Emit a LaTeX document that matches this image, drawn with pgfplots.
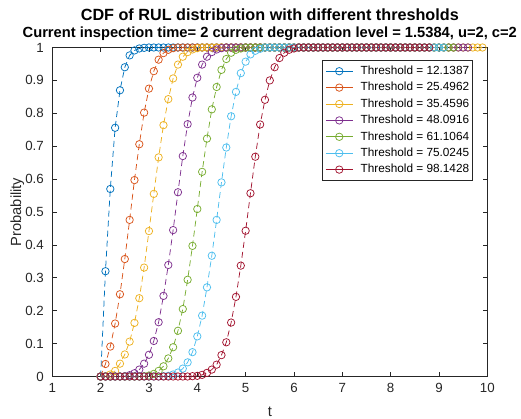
\documentclass[border=0pt]{standalone}
\usepackage{fontspec}
\setmainfont{Liberation Sans}
\setsansfont{Liberation Sans}
\usepackage{pgfplots}
\pgfplotsset{compat=1.18}
\definecolor{c1}{rgb}{0,0.447,0.741}
\definecolor{c2}{rgb}{0.85,0.325,0.098}
\definecolor{c3}{rgb}{0.929,0.694,0.125}
\definecolor{c4}{rgb}{0.494,0.184,0.556}
\definecolor{c5}{rgb}{0.466,0.674,0.188}
\definecolor{c6}{rgb}{0.301,0.745,0.933}
\definecolor{c7}{rgb}{0.635,0.078,0.184}
\definecolor{axgray}{rgb}{0.15,0.15,0.15}
\begin{document}
\begin{tikzpicture}
\begin{axis}[
  scale only axis, width=435pt, height=329pt,
  xmin=1, xmax=10, ymin=0, ymax=1,
  xtick={1,2,3,4,5,6,7,8,9,10},
  ytick={0,0.1,0.2,0.3,0.4,0.5,0.6,0.7,0.8,0.9,1},
  yticklabels={0,0.1,0.2,0.3,0.4,0.5,0.6,0.7,0.8,0.9,1},
  tick align=inside, xtick pos=both, ytick pos=both,
  major tick length=4.5pt,
  axis line style={draw=axgray, line width=0.6pt},
  tick style={draw=axgray, line width=0.6pt},
  ticklabel style={font=\fontsize{13.3}{15}\selectfont, color=axgray},
  xticklabel style={yshift=-3pt},
  yticklabel style={xshift=-5pt},
  /pgf/number format/assume math mode=true,
  xlabel={t}, ylabel={Probability},
  every axis x label/.style={at={(rel axis cs:0.5,0)}, anchor=center, yshift=-35pt, font=\fontsize{14.7}{16}\selectfont, color=axgray},
  every axis y label/.style={at={(rel axis cs:0,0.5)}, anchor=center, rotate=90, yshift=35pt, font=\fontsize{14.7}{16}\selectfont, color=axgray},
  title={{\fontsize{16.2}{16.5}\selectfont CDF of RUL distribution with different thresholds}\\Current inspection time= 2 current degradation level = 1.5384, u=2, c=2},
  title style={align=center, font=\bfseries\fontsize{14.7}{16.5}\selectfont, yshift=-2.5pt},
  clip=false,
  every axis plot/.append style={line width=0.75pt, dash pattern=on 6pt off 4pt, mark=o, mark size=3.7pt, mark options={solid}},
  legend style={at={(0.966,0.9615)}, anchor=north east, draw=axgray, line width=0.6pt,
    font=\fontsize{11.8}{13}\selectfont, inner xsep=3pt, inner ysep=5pt,
    nodes={inner sep=0pt, text height=9pt, text depth=2.5pt}, row sep=4.9pt,
    /tikz/every odd column/.append style={column sep=7.5pt}},
  legend cell align=left,
  legend image code/.code={\draw[mark repeat=2,mark phase=2,#1,solid] plot coordinates {(0pt,0pt) (13.5pt,0pt) (27pt,0pt)};},
]
\addplot[color=c1] coordinates {
(2.0,0)(2.1,0.32)(2.2,0.57)(2.3,0.756)(2.4,0.87)(2.5,0.94)(2.6,0.976)(2.7,0.991)(2.8,0.997)(2.9,0.999)
(3.0,1)(3.1,1)(3.2,1)(3.3,1)(3.4,1)(3.5,1)(3.6,1)(3.7,1)(3.8,1)(3.9,1)
(4.0,1)(4.1,1)(4.2,1)(4.3,1)(4.4,1)(4.5,1)(4.6,1)(4.7,1)(4.8,1)(4.9,1)
(5.0,1)(5.1,1)(5.2,1)(5.3,1)(5.4,1)(5.5,1)(5.6,1)(5.7,1)(5.8,1)(5.9,1)
(6.0,1)(6.1,1)(6.2,1)(6.3,1)(6.4,1)(6.5,1)(6.6,1)(6.7,1)(6.8,1)(6.9,1)
(7.0,1)(7.1,1)(7.2,1)(7.3,1)(7.4,1)(7.5,1)(7.6,1)(7.7,1)(7.8,1)(7.9,1)
(8.0,1)(8.1,1)(8.2,1)(8.3,1)
};
\addlegendentry{Threshold = 12.1387}
\addplot[color=c2] coordinates {
(2.0,0)(2.1,0.038)(2.2,0.091)(2.3,0.161)(2.4,0.25)(2.5,0.357)(2.6,0.476)(2.7,0.597)(2.8,0.706)(2.9,0.802)
(3.0,0.875)(3.1,0.928)(3.2,0.963)(3.3,0.983)(3.4,0.993)(3.5,0.998)(3.6,1)(3.7,1)(3.8,1)(3.9,1)
(4.0,1)(4.1,1)(4.2,1)(4.3,1)(4.4,1)(4.5,1)(4.6,1)(4.7,1)(4.8,1)(4.9,1)
(5.0,1)(5.1,1)(5.2,1)(5.3,1)(5.4,1)(5.5,1)(5.6,1)(5.7,1)(5.8,1)(5.9,1)
(6.0,1)(6.1,1)(6.2,1)(6.3,1)(6.4,1)(6.5,1)(6.6,1)(6.7,1)(6.8,1)(6.9,1)
(7.0,1)(7.1,1)(7.2,1)(7.3,1)(7.4,1)(7.5,1)(7.6,1)(7.7,1)(7.8,1)(7.9,1)
(8.0,1)(8.1,1)(8.2,1)(8.3,1)(8.4,1)(8.5,1)
};
\addlegendentry{Threshold = 25.4962}
\addplot[color=c3] coordinates {
(2.0,0)(2.1,0.001)(2.2,0.006)(2.3,0.017)(2.4,0.039)(2.5,0.067)(2.6,0.106)(2.7,0.163)(2.8,0.238)(2.9,0.331)
(3.0,0.442)(3.1,0.555)(3.2,0.666)(3.3,0.764)(3.4,0.843)(3.5,0.906)(3.6,0.948)(3.7,0.972)(3.8,0.986)(3.9,0.994)
(4.0,0.998)(4.1,1)(4.2,1)(4.3,1)(4.4,1)(4.5,1)(4.6,1)(4.7,1)(4.8,1)(4.9,1)
(5.0,1)(5.1,1)(5.2,1)(5.3,1)(5.4,1)(5.5,1)(5.6,1)(5.7,1)(5.8,1)(5.9,1)
(6.0,1)(6.1,1)(6.2,1)(6.3,1)(6.4,1)(6.5,1)(6.6,1)(6.7,1)(6.8,1)(6.9,1)
(7.0,1)(7.1,1)(7.2,1)(7.3,1)(7.4,1)(7.5,1)(7.6,1)(7.7,1)(7.8,1)(7.9,1)
(8.0,1)(8.1,1)(8.2,1)(8.3,1)(8.4,1)(8.5,1)(8.6,1)(8.7,1)(8.8,1)(8.9,1)
(9.0,1)(9.1,1)(9.2,1)(9.3,1)(9.4,1)(9.5,1)(9.6,1)(9.7,1)(9.8,1)(9.9,1)
};
\addlegendentry{Threshold = 35.4596}
\addplot[color=c4] coordinates {
(2.0,0)(2.1,0)(2.2,0)(2.3,0)(2.4,0)(2.5,0.001)(2.6,0.004)(2.7,0.01)(2.8,0.021)(2.9,0.039)
(3.0,0.066)(3.1,0.108)(3.2,0.165)(3.3,0.245)(3.4,0.339)(3.5,0.445)(3.6,0.56)(3.7,0.67)(3.8,0.767)(3.9,0.848)
(4.0,0.908)(4.1,0.948)(4.2,0.972)(4.3,0.986)(4.4,0.994)(4.5,0.998)(4.6,1)(4.7,1)(4.8,1)(4.9,1)
(5.0,1)(5.1,1)(5.2,1)(5.3,1)(5.4,1)(5.5,1)(5.6,1)(5.7,1)(5.8,1)(5.9,1)
(6.0,1)(6.1,1)(6.2,1)(6.3,1)(6.4,1)(6.5,1)(6.6,1)(6.7,1)(6.8,1)(6.9,1)
(7.0,1)(7.1,1)(7.2,1)(7.3,1)(7.4,1)(7.5,1)(7.6,1)(7.7,1)(7.8,1)(7.9,1)
(8.0,1)(8.1,1)(8.2,1)(8.3,1)(8.4,1)(8.5,1)(8.6,1)(8.7,1)(8.8,1)(8.9,1)
(9.0,1)(9.1,1)(9.2,1)(9.3,1)(9.4,1)(9.5,1)(9.6,1)
};
\addlegendentry{Threshold = 48.0916}
\addplot[color=c5] coordinates {
(2.0,0)(2.1,0)(2.2,0)(2.3,0)(2.4,0)(2.5,0)(2.6,0)(2.7,0)(2.8,0)(2.9,0.001)
(3.0,0.003)(3.1,0.008)(3.2,0.017)(3.3,0.031)(3.4,0.055)(3.5,0.089)(3.6,0.139)(3.7,0.205)(3.8,0.294)(3.9,0.397)
(4.0,0.509)(4.1,0.622)(4.2,0.723)(4.3,0.812)(4.4,0.88)(4.5,0.932)(4.6,0.965)(4.7,0.984)(4.8,0.993)(4.9,0.997)
(5.0,1)(5.1,1)(5.2,1)(5.3,1)(5.4,1)(5.5,1)(5.6,1)(5.7,1)(5.8,1)(5.9,1)
(6.0,1)(6.1,1)(6.2,1)(6.3,1)(6.4,1)(6.5,1)(6.6,1)(6.7,1)(6.8,1)(6.9,1)
(7.0,1)(7.1,1)(7.2,1)(7.3,1)(7.4,1)(7.5,1)(7.6,1)(7.7,1)(7.8,1)(7.9,1)
(8.0,1)(8.1,1)(8.2,1)(8.3,1)(8.4,1)(8.5,1)(8.6,1)(8.7,1)(8.8,1)(8.9,1)
(9.0,1)(9.1,1)(9.2,1)(9.3,1)
};
\addlegendentry{Threshold = 61.1064}
\addplot[color=c6] coordinates {
(2.0,0)(2.1,0)(2.2,0)(2.3,0)(2.4,0)(2.5,0)(2.6,0)(2.7,0)(2.8,0)(2.9,0)
(3.0,0)(3.1,0)(3.2,0)(3.3,0.001)(3.4,0.002)(3.5,0.006)(3.6,0.012)(3.7,0.024)(3.8,0.043)(3.9,0.074)
(4.0,0.122)(4.1,0.185)(4.2,0.271)(4.3,0.367)(4.4,0.476)(4.5,0.59)(4.6,0.696)(4.7,0.791)(4.8,0.865)(4.9,0.922)
(5.0,0.957)(5.1,0.979)(5.2,0.99)(5.3,0.996)(5.4,1)(5.5,1)(5.6,1)(5.7,1)(5.8,1)(5.9,1)
(6.0,1)(6.1,1)(6.2,1)(6.3,1)(6.4,1)(6.5,1)(6.6,1)(6.7,1)(6.8,1)(6.9,1)
(7.0,1)(7.1,1)(7.2,1)(7.3,1)(7.4,1)(7.5,1)(7.6,1)(7.7,1)(7.8,1)(7.9,1)
(8.0,1)(8.1,1)(8.2,1)(8.3,1)(8.4,1)(8.5,1)(8.6,1)(8.7,1)(8.8,1)(8.9,1)
(9.0,1)(9.1,1)
};
\addlegendentry{Threshold = 75.0245}
\addplot[color=c7] coordinates {
(2.0,0)(2.1,0)(2.2,0)(2.3,0)(2.4,0)(2.5,0)(2.6,0)(2.7,0)(2.8,0)(2.9,0)
(3.0,0)(3.1,0)(3.2,0)(3.3,0)(3.4,0)(3.5,0)(3.6,0)(3.7,0)(3.8,0)(3.9,0.001)
(4.0,0.002)(4.1,0.005)(4.2,0.011)(4.3,0.021)(4.4,0.036)(4.5,0.065)(4.6,0.104)(4.7,0.164)(4.8,0.242)(4.9,0.337)
(5.0,0.443)(5.1,0.557)(5.2,0.668)(5.3,0.766)(5.4,0.841)(5.5,0.9)(5.6,0.94)(5.7,0.968)(5.8,0.984)(5.9,0.993)
(6.0,0.997)(6.1,1)(6.2,1)(6.3,1)(6.4,1)(6.5,1)(6.6,1)(6.7,1)(6.8,1)(6.9,1)
(7.0,1)(7.1,1)(7.2,1)(7.3,1)(7.4,1)(7.5,1)(7.6,1)(7.7,1)(7.8,1)(7.9,1)
(8.0,1)(8.1,1)(8.2,1)(8.3,1)(8.4,1)(8.5,1)(8.6,1)(8.7,1)(8.8,1)
};
\addlegendentry{Threshold = 98.1428}
\end{axis}
\pgfresetboundingbox
\path[use as bounding box] ([xshift=-52.3pt,yshift=-42.5pt]current axis.south west) rectangle ++(521pt,419pt);
\end{tikzpicture}
\end{document}
